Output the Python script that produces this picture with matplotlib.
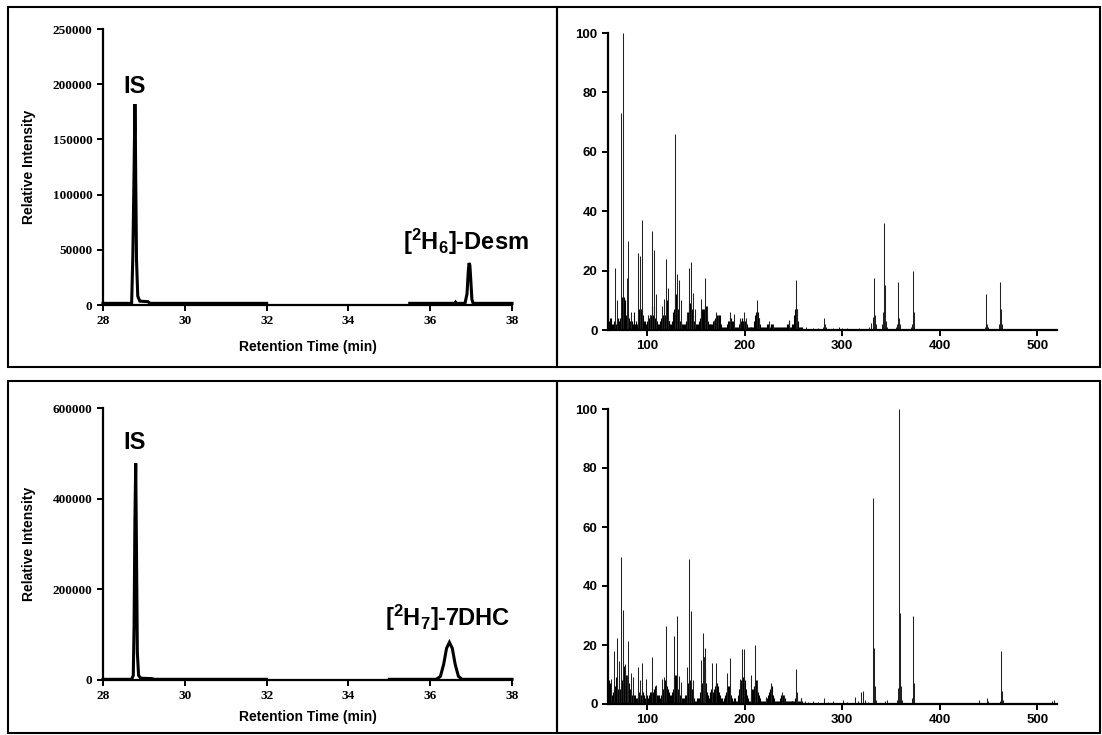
import numpy as np
import matplotlib
matplotlib.use("Agg")
import matplotlib.pyplot as plt
from matplotlib.patches import Rectangle
from matplotlib.ticker import FixedLocator, FuncFormatter

W, H = 1102, 735
nan = float("nan")

plt.rcParams['font.family'] = 'Liberation Sans'
plt.rcParams['mathtext.fontset'] = 'custom'
plt.rcParams['mathtext.rm'] = 'Liberation Sans:bold'
plt.rcParams['mathtext.it'] = 'Liberation Sans:bold'
plt.rcParams['mathtext.bf'] = 'Liberation Sans:bold'

# chromatogram traces (retention time in min, intensity), nan splits the segments
DESM_TIME = [28.00, 28.70, 28.73, 28.76, 28.78, 28.79, 28.80, 28.82, 28.85, 28.90, 29.10, 29.15, 32.00,
             nan, 35.50, 36.60, 36.62, 36.64, 36.85, 36.90, 36.93, 36.95, 36.97, 36.99, 37.02, 37.05, 38.00]
DESM_INT = [1500, 1500, 45000, 122000, 182000, 160000, 115000, 40000, 8000, 3500, 3000, 1500, 1500,
            nan, 1500, 1500, 2500, 1500, 1500, 10000, 30000, 38000, 36000, 24000, 5000, 1500, 1500]

DHC_TIME = [28.00, 28.70, 28.74, 28.76, 28.78, 28.80, 28.82, 28.84, 28.87, 28.92, 29.20, 29.25, 32.00,
            nan, 35.00, 36.15, 36.25, 36.33, 36.40, 36.47, 36.54, 36.61, 36.69, 36.78, 38.00]
DHC_INT = [1500, 1500, 10000, 120000, 350000, 478000, 270000, 60000, 10000, 4000, 3000, 1500, 1500,
           nan, 1500, 1500, 8000, 35000, 70000, 83000, 70000, 35000, 8000, 1500, 1500]

# mass spectra: low level ions for m/z 60..259, then the distinct peaks
GRASS_START = 60
DESM_GRASS = [
    2, 3, 4, 4, 2, 2, 3, 3, 2, 3,
    4, 3, 4, 4, 11, 11, 11, 10, 5, 5,
    5, 4, 4, 3, 3, 3, 2, 6, 2, 3,
    2, 5, 7, 7, 7, 7, 5, 3, 3, 2,
    3, 2, 4, 5, 5, 8, 5, 8, 4, 3,
    3, 2, 2, 3, 4, 4, 5, 5, 5, 10,
    10, 5, 3, 3, 2, 2, 3, 6, 7, 12,
    12, 12, 7, 4, 3, 3, 2, 2, 2, 2,
    3, 5, 6, 9, 9, 8, 7, 5, 3, 2,
    2, 2, 2, 3, 4, 6, 7, 7, 7, 8,
    8, 5, 3, 2, 2, 2, 2, 2, 3, 3,
    4, 4, 5, 4, 5, 5, 2, 1, 1, 1,
    1, 1, 2, 3, 3, 4, 4, 3, 3, 2,
    1, 1, 1, 1, 2, 3, 3, 4, 3, 4,
    3, 3, 2, 1, 1, 1, 1, 1, 1, 1,
    3, 5, 6, 6, 6, 4, 2, 1, 1, 1,
    1, 1, 1, 2, 2, 2, 1, 2, 2, 1,
    1, 1, 1, 1, 1, 1, 1, 1, 1, 1,
    1, 1, 1, 2, 2, 3, 1, 1, 1, 2,
    2, 5, 7, 7, 7, 3, 1, 1, 1, 1,
]
DESM_PEAK_MZ = [67, 69, 73, 75, 79, 81, 84, 91, 93, 95, 101, 103, 105, 107, 109, 115, 117, 119, 121,
                129, 131, 133, 135, 141, 143, 145, 147, 149, 155, 159, 161, 169, 171, 173, 185, 189,
                195, 199, 201, 213, 215, 225, 229, 245, 253, 254,
                263, 270, 275, 280, 281, 282, 283, 290, 297, 300, 305, 317, 320, 327, 329, 331, 332,
                333, 334, 335, 341, 342, 343, 344, 345, 346, 355, 356, 357, 358, 359, 370, 371, 372,
                373, 374, 390, 445, 446, 447, 448, 449, 461, 462, 463, 464, 484]
DESM_PEAK_INT = [21, 10, 73, 100, 17.5, 30, 6, 26, 25, 37, 5, 5, 33.5, 27, 12, 8, 10.5, 24, 14,
                 66, 19, 17, 10, 6, 21, 23, 12.5, 7, 10.5, 17.5, 8, 3.5, 6, 5, 6, 5.5,
                 4, 6, 4, 10, 4, 3, 2, 3.5, 17, 7,
                 1, 0.8, 0.8, 1, 4, 2, 1, 0.6, 1, 0.8, 0.8, 0.8, 0.5, 1, 2.5, 3, 4.5,
                 17.5, 5, 2, 2, 6, 36, 15, 3, 1, 1, 2, 16, 4, 2, 1, 2, 20,
                 6, 2, 0.4, 0.5, 1, 12, 2, 1, 2, 16, 7, 2, 0.5]

DHC_GRASS = [
    4, 8, 7, 5, 3, 4, 5, 6, 9, 9,
    5, 4, 5, 6, 8, 9, 13, 12, 10, 8,
    4, 6, 7, 5, 4, 3, 4, 3, 3, 2,
    2, 3, 4, 3, 3, 5, 4, 3, 2, 4,
    3, 2, 3, 4, 4, 5, 4, 5, 6, 4,
    3, 3, 3, 2, 3, 4, 5, 6, 8, 7,
    6, 5, 4, 3, 3, 3, 4, 5, 9, 10,
    10, 9, 5, 4, 3, 3, 2, 2, 2, 3,
    3, 4, 7, 8, 8, 7, 5, 3, 2, 1,
    1, 2, 2, 2, 4, 6, 7, 8, 16, 12,
    7, 4, 3, 2, 3, 4, 5, 4, 4, 5,
    6, 7, 7, 6, 4, 3, 2, 2, 1, 2,
    3, 4, 5, 6, 6, 5, 3, 2, 1, 2,
    2, 1, 1, 3, 5, 7, 8, 8, 9, 9,
    8, 5, 3, 2, 1, 1, 2, 4, 5, 5,
    6, 7, 8, 6, 4, 3, 2, 1, 1, 1,
    1, 1, 2, 2, 3, 4, 5, 6, 6, 3,
    2, 1, 1, 1, 1, 1, 2, 3, 3, 3,
    2, 2, 1, 1, 1, 1, 1, 1, 1, 1,
    1, 1, 2, 3, 2, 1, 1, 1, 2, 1,
]
DHC_PEAK_MZ = [63, 66, 69, 71, 73, 75, 77, 79, 81, 84, 86, 91, 93, 95, 99, 105, 109, 115, 117, 119,
               128, 131, 133, 135, 141, 143, 145, 147, 155, 157, 158, 159, 167, 171, 182, 185, 195,
               197, 199, 207, 211, 213, 222, 227, 238, 240, 253, 254, 258,
               262, 265, 270, 275, 281, 285, 290, 295, 301, 305, 310, 313, 316, 319, 321, 323, 326,
               331, 332, 333, 334, 335, 340, 344, 346, 350, 356, 357, 358, 359, 360, 361, 365, 371,
               372, 373, 374, 408, 440, 448, 449, 462, 463, 464, 465, 470, 515, 517]
DHC_PEAK_INT = [8.5, 18, 22.5, 14.5, 50, 32, 13.5, 10, 21.5, 10.5, 9, 12.5, 8, 14, 8.5, 16, 6.5, 8.5, 9, 26.5,
                23, 30, 9.5, 7.5, 12.5, 49, 31.5, 8, 15, 24, 16, 19, 14, 14, 10.5, 15.5, 8.5,
                18.5, 18.5, 10, 20, 8, 2.5, 7, 4, 3, 12, 4, 2,
                1, 0.8, 1, 0.7, 2, 0.6, 1, 0.5, 1.5, 0.7, 0.5, 2.5, 1, 4, 4.5, 1.5, 0.6,
                1.5, 70, 19, 6, 1.5, 0.5, 1, 1.5, 0.5, 1.5, 5.5, 100, 31, 6, 1.5, 0.5, 2,
                30, 7, 1.5, 0.4, 1.5, 2, 1, 1, 18, 4.5, 1.5, 0.4, 1, 1.5]

CHROM_XTICKS = [28, 30, 32, 34, 36, 38]
SPEC_XTICKS = [100, 200, 300, 400, 500]
SPEC_YTICKS = [0, 20, 40, 60, 80, 100]


def px_axes(fig, x0, x1, ytop, ybot):
    # axes placed from pixel edges of the reference picture
    return fig.add_axes([x0 / W, 1 - ybot / H, (x1 - x0) / W, (ybot - ytop) / H])


def base_style(ax):
    for s in ['top', 'right']:
        ax.spines[s].set_visible(False)
    for s in ['left', 'bottom']:
        ax.spines[s].set_linewidth(1.6)
    ax.tick_params(direction='out', length=4.5, width=1.4, pad=3, color='black')


def chromatogram(ax, t, y, ymax, ystep, label, label_xy, ylab_x, xlab_y):
    base_style(ax)
    ax.plot(t, y, color='black', lw=2.2, solid_joinstyle='miter', clip_on=False)
    ax.set_xlim(28, 38)
    ax.set_ylim(0, ymax)
    ax.xaxis.set_major_locator(FixedLocator(CHROM_XTICKS))
    ax.yaxis.set_major_locator(FixedLocator(list(range(0, ymax + 1, ystep))))
    ax.yaxis.set_major_formatter(FuncFormatter(lambda v, p: "%d" % v))
    for lab in ax.get_xticklabels() + ax.get_yticklabels():
        lab.set_fontfamily('Liberation Serif')
        lab.set_fontweight('bold')
        lab.set_fontsize(9.5)
    ax.set_xlabel("Retention Time (min)", fontsize=10, fontweight='bold')
    ax.set_ylabel("Relative Intensity", fontsize=10, fontweight='bold')
    ax.xaxis.set_label_coords(0.5, xlab_y)
    ax.yaxis.set_label_coords(ylab_x, 0.5)
    ax.text(28.78, label_xy[2], "IS", fontsize=17, fontweight='bold', ha='center', va='center')
    ax.text(label_xy[0], label_xy[1], label, fontsize=17, fontweight='bold', ha='center', va='center')


def spectrum(ax, grass, peak_mz, peak_int):
    base_style(ax)
    grass_mz = list(range(GRASS_START, GRASS_START + len(grass)))
    ax.vlines(grass_mz, 0, grass, color='black', lw=0.8)
    ax.vlines(peak_mz, 0, peak_int, color='#222222', lw=0.75)
    ax.set_xlim(60, 520)
    ax.set_ylim(0, 100)
    ax.xaxis.set_major_locator(FixedLocator(SPEC_XTICKS))
    ax.yaxis.set_major_locator(FixedLocator(SPEC_YTICKS))
    for lab in ax.get_xticklabels() + ax.get_yticklabels():
        lab.set_fontweight('bold')
        lab.set_fontsize(9.5)


fig = plt.figure(figsize=(W / 100, H / 100), dpi=100)

# panel frames
for (x0, x1, y0, y1) in [(8, 557, 7, 367), (557, 1100, 7, 367), (8, 557, 381, 733), (557, 1100, 381, 733)]:
    fig.add_artist(Rectangle((x0 / W, 1 - y1 / H), (x1 - x0) / W, (y1 - y0) / H,
                             transform=fig.transFigure, fill=False, edgecolor='black', lw=1.5))

ax1 = px_axes(fig, 103, 512, 29, 305)
chromatogram(ax1, DESM_TIME, DESM_INT, 250000, 50000, r"[$^{2}$H$_{6}$]-Desm", (36.87, 57000, 198000),
             -0.165, -0.125)

ax2 = px_axes(fig, 608, 1057, 33, 330)
spectrum(ax2, DESM_GRASS, DESM_PEAK_MZ, DESM_PEAK_INT)

ax3 = px_axes(fig, 103, 512, 408, 680)
chromatogram(ax3, DHC_TIME, DHC_INT, 600000, 200000, r"[$^{2}$H$_{7}$]-7DHC", (36.42, 137000, 523000),
             -0.165, -0.11)

ax4 = px_axes(fig, 608, 1057, 409, 704)
spectrum(ax4, DHC_GRASS, DHC_PEAK_MZ, DHC_PEAK_INT)

fig.savefig("out.png", dpi=100)
